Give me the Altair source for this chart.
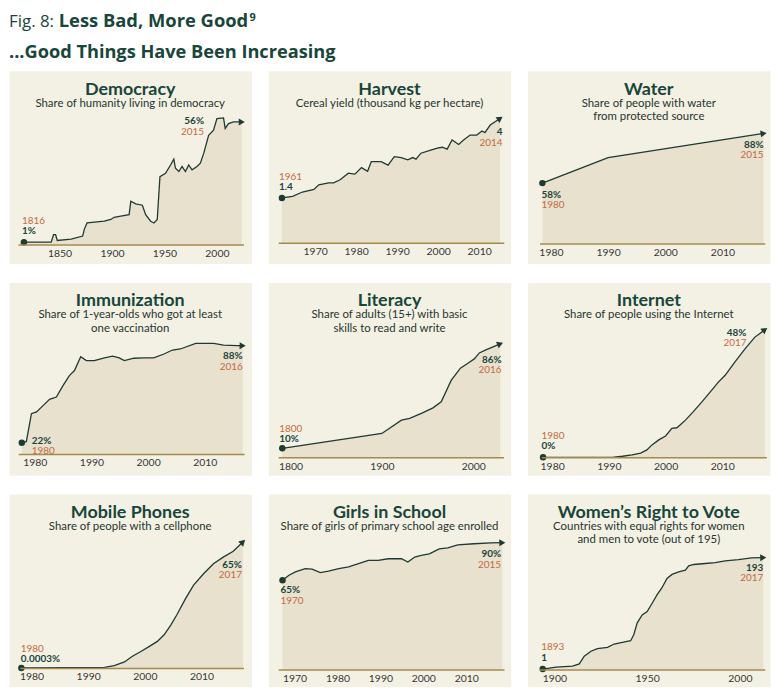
import math
import altair as alt
import pandas as pd

# ---------------- colours / fonts ----------------
CREAM = "#f3f1e4"
AREA = "#e7e1ce"
LINE = "#1d3b30"
TITLE_C = "#17463a"
SUB_C = "#27362f"
YEAR_C = "#c56a3c"
VAL_C = "#18453a"
AXIS_C = "#a48a4b"
LABEL_C = "#363636"
FONT = "Lato"
HFONT = "Open Sans"

W, H = 244, 194

# ---------------- data ----------------
titles = ["Democracy", "Harvest", "Water", "Immunization", "Literacy", "Internet",
          "Mobile Phones", "Girls in School", "Women\u2019s Right to Vote"]
subtitles = ["Share of humanity living in democracy",
             "Cereal yield (thousand kg per hectare)",
             "Share of people with water\nfrom protected source",
             "Share of 1-year-olds who got at least\none vaccination",
             "Share of adults (15+) with basic\nskills to read and write",
             "Share of people using the Internet",
             "Share of people with a cellphone",
             "Share of girls of primary school age enrolled",
             "Countries with equal rights for women\nand men to vote (out of 195)"]

democracy_years = [1816, 1842, 1844.3, 1846.2, 1847.8, 1861, 1872, 1873.7, 1876.2, 1892.6, 1898.9,
                   1902, 1908.4, 1916.3, 1917.9, 1922.6, 1928.9, 1932.1, 1936.8, 1940, 1943.1,
                   1945.7, 1951, 1955.8, 1958.9, 1960.5, 1963.7, 1966.8, 1970, 1973.1, 1976.3,
                   1981, 1984.2, 1987.4, 1992.1, 1996.8, 2000, 2006.3, 2007.9, 2011, 2015.8, 2023.7]
democracy_values = [1, 1, 4.5, 4.5, 1.8, 2.4, 3.8, 7.1, 9.8, 10.6, 11.4, 12.4, 12.9, 13.6, 19.7,
                    18.5, 17.9, 13.6, 10.6, 9.8, 11.4, 31, 32.5, 36.3, 39, 34.8, 33.3, 35.6, 33.3,
                    36.3, 34.1, 35.6, 37.1, 41.6, 49.9, 52.2, 57.5, 57.8, 53, 55.2, 56, 56]

harvest_years = [1961.9, 1964.5, 1966.9, 1969.7, 1970.9, 1973.3, 1974.5, 1976.1, 1978.1, 1979.7,
                 1981.3, 1982.8, 1983.7, 1986.1, 1987.8, 1989.3, 1991, 1992.6, 1993.8, 1994.6,
                 1995.8, 1998.2, 1999.8, 2001, 2002.2, 2003.4, 2005, 2006.2, 2007.8, 2009.4,
                 2010.7, 2011.4, 2012.7, 2015.1]
harvest_values = [1.43, 1.48, 1.62, 1.70, 1.85, 1.91, 1.91, 2.01, 2.22, 2.19, 2.40, 2.28, 2.59,
                  2.59, 2.48, 2.75, 2.72, 2.65, 2.72, 2.67, 2.86, 2.96, 3.02, 3.05, 2.99, 3.28,
                  3.14, 3.28, 3.44, 3.44, 3.57, 3.52, 3.76, 3.97]

water_years = [1978.5, 1990, 2017.2]
water_values = [58, 73.4, 88]

immunization_years = [1977.7, 1978.5, 1979.4, 1980.3, 1981.5, 1982.6, 1983.8, 1985, 1986.1, 1987,
                      1988.1, 1989.1, 1990.5, 1992.3, 1993.7, 1994.9, 1995.8, 1997.5, 1999.3, 2001,
                      2002.8, 2004.3, 2005.7, 2008.4, 2011.6, 2013.3, 2015.7, 2016.7]
immunization_values = [22, 22.7, 41.8, 43, 47.4, 51.5, 53.1, 61, 67.7, 71.1, 80.6, 77.9, 77.9,
                       79.7, 80.9, 79.7, 77.9, 79.5, 79.7, 79.7, 82.4, 85.1, 85.8, 89.6, 89.6,
                       88.5, 88.1, 88]

literacy_years = [1791, 1900, 1921.4, 1930.4, 1943.2, 1955.9, 1964.9, 1975.8, 1985.9, 1995.7,
                  2001.1, 2006.6, 2013.8, 2029.4]
literacy_values = [10, 20.9, 30.6, 31.9, 35.6, 39.7, 44.1, 59.8, 68.8, 73.2, 75.6, 80, 82.2, 86.6]

internet_years = [1978.4, 1990.6, 1992.4, 1994.1, 1995.6, 1996.7, 1997.6, 1998.8, 2000, 2001.1,
                  2002, 2003.5, 2004.9, 2006.4, 2008.1, 2009.3, 2010.5, 2012.2, 2014, 2015.7,
                  2017.5]
internet_values = [0, 0, 0.4, 0.9, 1.6, 2.8, 4.7, 6.6, 8.1, 11, 11.2, 14.1, 17.3, 21, 25.4, 28.5,
                   31.1, 36.1, 41.1, 45.5, 48.4]

mobile_years = [1978.2, 1992.9, 1994.6, 1996.4, 1997.8, 1999.3, 2000.8, 2002.2, 2003.4, 2004.6,
                2005.7, 2007.2, 2008.6, 2010.4, 2012.1, 2013.9, 2015.6, 2017.3]
mobile_values = [0, 0.3, 1.2, 3.1, 6, 8.5, 11.1, 13.7, 17.1, 22.2, 27.7, 35.9, 42.7, 48.7, 53.8,
                 57.3, 60.2, 65]

girls_years = [1967.2, 1968.7, 1970.2, 1972.5, 1974.1, 1976, 1977.9, 1980.3, 1982.6, 1984.9,
               1987.2, 1989.5, 1991.8, 1994.9, 1996.4, 1998, 1999.5, 2001.4, 2003.7, 2005.7,
               2008, 2011.8, 2015.7, 2018.4]
girls_values = [65, 68.3, 70.5, 72.7, 72.3, 70.1, 71, 72.7, 73.8, 76, 78.2, 78.2, 79.3, 79.3,
                77.1, 80.4, 81.5, 82.6, 85.9, 86.6, 88.6, 89.3, 89.9, 90]

women_years = [1893.7, 1900.9, 1909.8, 1913.4, 1916.1, 1919.7, 1923.2, 1928.6, 1932.2, 1936.6,
               1941.1, 1942.8, 1944.6, 1947.3, 1950, 1952.7, 1955.3, 1958, 1960.7, 1963.4, 1967,
               1970.6, 1972.4, 1975.1, 1981.3, 1986.7, 1992.1, 1999.2, 2006.3, 2012.6]
women_values = [1, 4.1, 5.9, 9.9, 23, 31.6, 36.2, 38.4, 44.1, 47, 49.8, 60.1, 80.1, 94.3, 100,
                114.3, 128.6, 141.1, 157.1, 164, 168.5, 171.4, 178.8, 181.1, 182.8, 184.5, 187.4,
                189.6, 192.5, 193]

tick_years = [[1850, 1900, 1950, 2000], [1970, 1980, 1990, 2000, 2010], [1980, 1990, 2000, 2010],
              [1980, 1990, 2000, 2010], [1800, 1900, 2000], [1980, 1990, 2000, 2010],
              [1980, 1990, 2000, 2010], [1970, 1980, 1990, 2000, 2010], [1900, 1950, 2000]]

start_year_labels = ["1816", "1961", "1980", "1980", "1800", "1980", "1980", "1970", "1893"]
start_value_labels = ["1%", "1.4", "58%", "22%", "10%", "0%", "0.0003%", "65%", "1"]
end_year_labels = ["2015", "2014", "2015", "2016", "2016", "2017", "2017", "2015", "2017"]
end_value_labels = ["56%", "4", "88%", "88%", "86%", "48%", "65%", "90%", "193"]

YEARS = [democracy_years, harvest_years, water_years, immunization_years, literacy_years,
         internet_years, mobile_years, girls_years, women_years]
VALUES = [democracy_values, harvest_values, water_values, immunization_values, literacy_values,
          internet_values, mobile_values, girls_values, women_values]

# ---------------- layout (scales in pixels, annotation offsets) ----------------
LAYOUT = [
    dict(xd=[1810.3, 2025.3], xr=[9, 236], yd=[0, 60], yr=[174.7, 42.6],
         s=("left", -2, -21.5, -11), e=("right", -38, 10, -0.5)),
    dict(xd=[1961, 2016], xr=[10, 237], yd=[0, 5], yr=[173, 15.5],
         s=("left", -3, -21.2, -11.2), e=("right", 2.4, 24.5, 14)),
    dict(xd=[1978, 2017.4], xr=[12, 238.7], yd=[21.6, 100], yr=[173.7, 43],
         s=("left", -1, 22, 11.5), e=("right", 0, 21.5, 11.8)),
    dict(xd=[1977.07, 2016.96], xr=[9.3, 236.7], yd=[14.3, 100], yr=[172.7, 46],
         s=("left", 10, 8.8, -1.2), e=("right", 0, 21.3, 10.5)),
    dict(xd=[1786.6, 2033], xr=[10, 236.7], yd=[3.4, 100], yr=[176, 43.5],
         s=("left", -3, -19.5, -9), e=("right", 1.4, 26.3, 16.3)),
    dict(xd=[1978.07, 2017.76], xr=[13.7, 240.3], yd=[0, 60], yr=[176, 16.8],
         s=("left", -1.5, -21.2, -11.8), e=("right", -18.5, 13, 3)),
    dict(xd=[1977.95, 2017.4], xr=[11, 236], yd=[0, 80], yr=[175, 19],
         s=("left", -0.5, -19.5, -9), e=("right", -1, 33.7, 23.2)),
    dict(xd=[1966.2, 2018.8], xr=[10, 237.3], yd=[5.3, 100], yr=[176.7, 33.9],
         s=("left", -2, 20.8, 10), e=("right", -1.3, 22.3, 11.5)),
    dict(xd=[1891.97, 2013.4], xr=[12, 238.7], yd=[0, 240], yr=[176.7, 36.5],
         s=("left", -1.6, -22, -11.5), e=("right", 0, 20.8, 10.6)),
]


def to_px(v, d, r):
    return r[0] + (v - d[0]) / (d[1] - d[0]) * (r[1] - r[0])


def make_panel(i):
    L = LAYOUT[i]
    df = pd.DataFrame({"year": YEARS[i], "value": VALUES[i]})
    xs = alt.Scale(domain=L["xd"], range=L["xr"], nice=False, zero=False)
    ys = alt.Scale(domain=L["yd"], range=L["yr"], nice=False, zero=False)
    xax = alt.Axis(values=tick_years[i], format="d", orient="bottom", offset=L["yr"][0] - H,
                   ticks=False, grid=False, domainColor=AXIS_C, domainWidth=1.5, title=None,
                   labelFont=FONT, labelFontSize=10.5, labelColor=LABEL_C, labelPadding=4,
                   labelFlush=False, zindex=1)
    X = alt.X("year:Q", scale=xs, axis=xax)
    Y = alt.Y("value:Q", scale=ys, axis=None)

    area = alt.Chart(df).mark_area(
        color=AREA, opacity=1, line={"color": LINE, "strokeWidth": 1.3}
    ).encode(x=X, y=Y, y2=alt.datum(L["yd"][0]))

    first = df.iloc[[0]].copy()
    last = df.iloc[[-1]].copy()
    first["ylab"] = start_year_labels[i]
    first["vlab"] = start_value_labels[i]
    last["ylab"] = end_year_labels[i]
    last["vlab"] = end_value_labels[i]

    dot = alt.Chart(first).mark_circle(size=42, color=LINE, opacity=1).encode(x=X, y=Y)

    x1 = to_px(df["year"].iloc[-2], L["xd"], L["xr"])
    x2 = to_px(df["year"].iloc[-1], L["xd"], L["xr"])
    y1 = to_px(df["value"].iloc[-2], L["yd"], L["yr"])
    y2 = to_px(df["value"].iloc[-1], L["yd"], L["yr"])
    ang = math.degrees(math.atan2(x2 - x1, -(y2 - y1))) % 360
    arrow = alt.Chart(last).mark_point(shape="triangle-up", filled=True, size=50, color=LINE,
                                       opacity=1, angle=ang).encode(x=X, y=Y)

    sa, sdx, sydy, svdy = L["s"]
    ea, edx, eydy, evdy = L["e"]
    txt = dict(font=FONT, fontSize=10, baseline="middle")
    s_year = alt.Chart(first).mark_text(align=sa, dx=sdx, dy=sydy, color=YEAR_C, **txt).encode(
        x=X, y=Y, text="ylab:N")
    s_val = alt.Chart(first).mark_text(align=sa, dx=sdx, dy=svdy, color=VAL_C, fontWeight="bold",
                                       **txt).encode(x=X, y=Y, text="vlab:N")
    e_year = alt.Chart(last).mark_text(align=ea, dx=edx, dy=eydy, color=YEAR_C, **txt).encode(
        x=X, y=Y, text="ylab:N")
    e_val = alt.Chart(last).mark_text(align=ea, dx=edx, dy=evdy, color=VAL_C, fontWeight="bold",
                                      **txt).encode(x=X, y=Y, text="vlab:N")

    tdf = pd.DataFrame({"t": [titles[i]], "s": [subtitles[i]]})
    title = alt.Chart(tdf).mark_text(font=FONT, fontSize=18, fontWeight="bold", color=TITLE_C,
                                     align="center", baseline="alphabetic").encode(
        x=alt.value(W / 2), y=alt.value(24), text="t:N")
    sub = alt.Chart(tdf).mark_text(font=FONT, fontSize=11.5, color=SUB_C, align="center",
                                   baseline="alphabetic", lineBreak="\n", lineHeight=13.5).encode(
        x=alt.value(W / 2), y=alt.value(36), text="s:N")

    return alt.layer(area, dot, arrow, s_year, s_val, e_year, e_val, title, sub).properties(
        width=W, height=H, view=alt.ViewBackground(fill=CREAM, stroke="transparent"))


panels = [make_panel(i) for i in range(9)]

# ---------------- header ----------------
head_fig = "Fig. 8:"
head_title = "Less Bad, More Good"
head_sup = "9"
head_sub = "...Good Things Have Been Increasing"
HC = "#17463a"


def htext(t, x, y, size, weight):
    return alt.Chart(pd.DataFrame({"t": [t]})).mark_text(
        font=HFONT, fontSize=size, fontWeight=weight, color=HC, align="left",
        baseline="alphabetic").encode(x=alt.value(x), y=alt.value(y), text="t:N")


header = alt.layer(
    htext(head_fig, 0, 16, 17, "normal"),
    htext(head_title, 50, 16, 18.5, "bold"),
    htext(head_sup, 242, 10, 11, "bold"),
    htext(head_sub, 0, 47, 18.3, "bold"),
).properties(width=762, height=52, view=alt.ViewBackground(fill="transparent", stroke="transparent"))

rows = [alt.hconcat(*panels[r * 3:(r + 1) * 3], spacing=15) for r in range(3)]
grid = alt.vconcat(*rows, spacing=17)

chart = alt.vconcat(header, grid, spacing=6).properties(
    padding=0, background="white"
).configure_view(stroke="transparent")

chart.save("out.html", embed_options={"renderer": "svg", "actions": False})
